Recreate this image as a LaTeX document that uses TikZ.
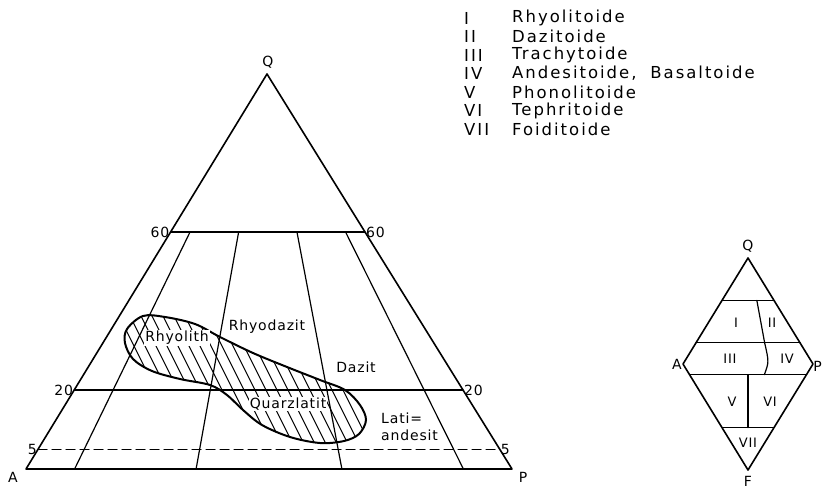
\documentclass[tikz,border=0pt]{standalone}
\usepackage{fontspec}
\setmainfont[LetterSpace=6]{DejaVu Sans}
\newfontfamily\legfont[LetterSpace=12]{DejaVu Sans}
\usetikzlibrary{calc}
\newcommand{\blobpath}{plot[smooth cycle,tension=0.55] coordinates {(127,329) (143,316) (165,317) (195,324) (220,337) (253,353) (287,367) (320,380) (345,390) (360,405) (366,420) (359,434) (344,441) (320,443) (290,437) (262,425) (243,410) (227,395) (210,385) (180,379) (152,371) (133,359) (125,343)}}

\begin{document}
\begin{tikzpicture}[x=1pt,y=-1pt,line cap=round,
  every node/.style={font=\fontsize{14}{17}\selectfont,inner sep=1pt},
  edge/.style={line width=1.6pt,line join=round},
  fine/.style={line width=1.2pt},
  blob/.style={line width=2pt},
  hatch/.style={line width=1pt},
  small/.style={font=\fontsize{13}{15}\selectfont},
  leg/.style={font=\legfont\fontsize{16.5}{18}\selectfont,anchor=west}]
  \useasboundingbox (0,0) rectangle (822,488);
  % main triangle
  \coordinate (A) at (26,469);
  \coordinate (P) at (512,469);
  \coordinate (Q) at (267,74);
  \draw[edge] (A) -- (P) -- (Q) -- cycle;
  \coordinate (l60) at ($(A)!0.6!(Q)$);
  \coordinate (r60) at ($(P)!0.6!(Q)$);
  \coordinate (l20) at ($(A)!0.2!(Q)$);
  \coordinate (r20) at ($(P)!0.2!(Q)$);
  \coordinate (l5) at ($(A)!0.05!(Q)$);
  \coordinate (r5) at ($(P)!0.05!(Q)$);
  \draw[fine] (l60) -- (r60);
  \draw[fine] (l20) -- (r20);
  \draw[fine,dash pattern=on 9pt off 5pt] (l5) -- (r5);
  \foreach \f in {10,35,65,90}{
    \coordinate (t\f) at ($(l60)!\f/100!(r60)$);
    \coordinate (b\f) at ($(A)!\f/100!(P)$);
    \draw[fine] (t\f) -- (b\f);
  }
  % field of the samples
  \begin{scope}
    \clip \blobpath;
    \foreach \x in {40,51,...,400}{\draw[hatch] (\x,290) -- ++(85,170);}
  \end{scope}
  \draw[blob] \blobpath;
  \node (lQ) at (268,62) {Q};
  \node (lA) at (13,477) {A};
  \node (lP) at (523,477) {P};
  \node[anchor=east] (n60l) at (l60) {60};
  \node[anchor=west] (n60r) at (r60) {60};
  \node[anchor=east] (n20l) at (l20) {20};
  \node[anchor=west] (n20r) at (r20) {20};
  \node[anchor=east] (n5l) at (l5) {5};
  \node[anchor=west] (n5r) at (r5) {5};
  \node[fill=white] (rhy) at (177,338) {Rhyolith};
  \node (rhd) at (267,327) {Rhyodazit};
  \node (daz) at (356,367) {Dazit};
  \node[fill=white] (qlt) at (288,404) {Quarzlatit};
  \node[anchor=north west,align=left,inner sep=0pt] (lat) at (381,413) {Lati=\\andesit};
  % QAPF diamond
  \coordinate (dQ) at (748,258);
  \coordinate (dA) at (683,364);
  \coordinate (dP) at (813,364);
  \coordinate (dF) at (748,470);
  \draw[edge] (dQ) -- (dA) -- (dF) -- (dP) -- cycle;
  \coordinate (q60l) at ($(dA)!0.6!(dQ)$);
  \coordinate (q60r) at ($(dP)!0.6!(dQ)$);
  \coordinate (q20l) at ($(dA)!0.2!(dQ)$);
  \coordinate (q20r) at ($(dP)!0.2!(dQ)$);
  \coordinate (f10l) at ($(dA)!0.1!(dF)$);
  \coordinate (f10r) at ($(dP)!0.1!(dF)$);
  \coordinate (f60l) at ($(dA)!0.6!(dF)$);
  \coordinate (f60r) at ($(dP)!0.6!(dF)$);
  \draw[fine] (q60l) -- (q60r);
  \draw[fine] (q20l) -- (q20r);
  \draw[fine] (f10l) -- (f10r);
  \draw[fine] (f60l) -- (f60r);
  \coordinate (d60) at ($(q60l)!0.67!(q60r)$);
  \coordinate (d20) at ($(q20l)!0.66!(q20r)$);
  \coordinate (d10) at ($(f10l)!0.64!(f10r)$);
  \draw[fine] (d60) -- (d20) .. controls (769,362) .. (d10);
  \coordinate (m10) at ($(f10l)!0.5!(f10r)$);
  \coordinate (m60) at ($(f60l)!0.5!(f60r)$);
  \draw[fine] (m10) -- (m60);
  \node (dlQ) at (748,246) {Q};
  \node[anchor=east] (dlA) at (dA) {A};
  \node[anchor=east,inner sep=0pt] (dlP) at (822,366) {P};
  \node (dlF) at (748,481) {F};
  \foreach \n/\x/\y in {I/736/323,II/772/323,III/730/359,IV/787/359,V/732/402,VI/770/402,VII/748/443}{
    \node[small] (f\n) at (\x,\y) {\n};
  }
  % legend
  \foreach \i/\r/\t in {1/I/Rhyolitoide,2/II/Dazitoide,3/III/Trachytoide,4/IV/{Andesitoide,\hspace{0.4em} Basaltoide},5/V/Phonolitoide,6/VI/Tephritoide,7/VII/Foiditoide}{
    \node[leg] (r\i) at (463,-0.5+18.5*\i) {\r};
    \node[leg] (t\i) at (511,-0.5+18.5*\i) {\t};
  }
\end{tikzpicture}
\end{document}
